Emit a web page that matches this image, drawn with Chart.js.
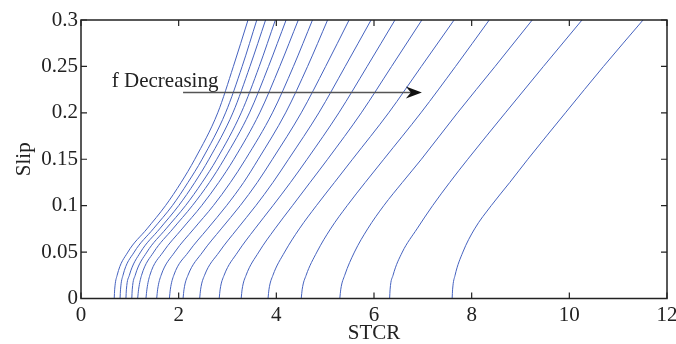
<!DOCTYPE html>
<html>
<head>
<meta charset="utf-8">
<title>Slip vs STCR</title>
<style>
  body { margin: 0; background: #fff; }
</style>
</head>
<body>
<canvas id="myChart" width="676" height="344"></canvas>
<script src="https://cdn.jsdelivr.net/npm/chart.js@4.4.1/dist/chart.umd.min.js"></script>
<script>
  // slip levels shared by every curve (y values)
  const slip = [0, 0.01, 0.025, 0.05, 0.075, 0.1, 0.125, 0.15, 0.2, 0.25, 0.3];

  // STCR (x) of each curve at those slip levels
  const stcr1  = [0.68, 0.69, 0.74, 0.96, 1.35, 1.73, 2.05, 2.33, 2.80, 3.12, 3.42];
  const stcr2  = [0.80, 0.81, 0.86, 1.09, 1.48, 1.87, 2.19, 2.48, 2.96, 3.30, 3.60];
  const stcr3  = [0.92, 0.93, 0.99, 1.22, 1.61, 2.00, 2.33, 2.62, 3.11, 3.46, 3.78];
  const stcr4  = [1.04, 1.05, 1.11, 1.35, 1.74, 2.14, 2.48, 2.78, 3.28, 3.65, 3.98];
  const stcr5  = [1.16, 1.18, 1.24, 1.49, 1.88, 2.28, 2.63, 2.93, 3.45, 3.84, 4.20];
  const stcr6  = [1.33, 1.35, 1.41, 1.68, 2.07, 2.47, 2.82, 3.13, 3.66, 4.07, 4.45];
  const stcr7  = [1.55, 1.57, 1.64, 1.92, 2.31, 2.71, 3.06, 3.37, 3.92, 4.35, 4.74];
  const stcr8  = [1.81, 1.83, 1.90, 2.20, 2.59, 2.98, 3.33, 3.63, 4.19, 4.64, 5.05];
  const stcr9  = [2.09, 2.11, 2.19, 2.49, 2.87, 3.26, 3.61, 3.92, 4.51, 5.01, 5.49];
  const stcr10 = [2.43, 2.45, 2.53, 2.83, 3.20, 3.58, 3.93, 4.25, 4.87, 5.41, 5.94];
  const stcr11 = [2.83, 2.85, 2.93, 3.21, 3.56, 3.93, 4.29, 4.63, 5.28, 5.86, 6.43];
  const stcr12 = [3.28, 3.30, 3.38, 3.64, 3.97, 4.33, 4.69, 5.05, 5.74, 6.36, 6.98];
  const stcr13 = [3.83, 3.85, 3.93, 4.17, 4.47, 4.82, 5.19, 5.56, 6.30, 6.97, 7.64];
  const stcr14 = [4.51, 4.53, 4.61, 4.83, 5.11, 5.45, 5.82, 6.20, 6.96, 7.67, 8.36];
  const stcr15 = [5.30, 5.32, 5.40, 5.60, 5.87, 6.20, 6.58, 6.97, 7.71, 8.48, 9.24];
  const stcr16 = [6.32, 6.33, 6.39, 6.58, 6.88, 7.20, 7.55, 7.92, 8.69, 9.47, 10.26];
  const stcr17 = [7.60, 7.61, 7.66, 7.82, 8.06, 8.40, 8.78, 9.15, 9.92, 10.70, 11.51];

  const curves = [stcr1, stcr2, stcr3, stcr4, stcr5, stcr6, stcr7, stcr8, stcr9,
                  stcr10, stcr11, stcr12, stcr13, stcr14, stcr15, stcr16, stcr17];

  const xTicks = [0, 2, 4, 6, 8, 10, 12];
  const yTicks = [0, 0.05, 0.1, 0.15, 0.2, 0.25, 0.3];
  const yTickLabels = ['0', '0.05', '0.1', '0.15', '0.2', '0.25', '0.3'];

  // arrow annotation, in data units
  const arrowLabel = 'f Decreasing';
  const arrowFrom = [2.09, 0.222];
  const arrowTo = [6.98, 0.222];
  const labelAt = [0.63, 0.2275];

  const FONT = '"Liberation Serif", "Times New Roman", serif';

  const datasets = curves.map(function(xs, i) {
    return {
      label: 'f' + (i + 1),
      data: xs.map(function(x, j) { return {x: x, y: slip[j]}; }),
      showLine: true,
      borderColor: '#4562bf',
      borderWidth: 1,
      pointRadius: 0,
      cubicInterpolationMode: 'monotone'
    };
  });

  // box frame with inward ticks + arrow annotation
  const framePlugin = {
    id: 'frame',
    afterDraw(chart) {
      const ctx = chart.ctx;
      const a = chart.chartArea;
      const xs = chart.scales.x, ys = chart.scales.y;
      const tl = 6;
      ctx.save();
      ctx.strokeStyle = '#222';
      ctx.lineWidth = 1.5;
      ctx.strokeRect(a.left, a.top, a.right - a.left, a.bottom - a.top);
      ctx.lineWidth = 1.2;
      ctx.beginPath();
      xTicks.forEach(function(v) {
        const px = xs.getPixelForValue(v);
        ctx.moveTo(px, a.bottom); ctx.lineTo(px, a.bottom - tl);
        ctx.moveTo(px, a.top); ctx.lineTo(px, a.top + tl);
      });
      yTicks.forEach(function(v) {
        const py = ys.getPixelForValue(v);
        ctx.moveTo(a.left, py); ctx.lineTo(a.left + tl, py);
        ctx.moveTo(a.right, py); ctx.lineTo(a.right - tl, py);
      });
      ctx.stroke();

      // arrow
      const x0 = xs.getPixelForValue(arrowFrom[0]), y0 = ys.getPixelForValue(arrowFrom[1]);
      const x1 = xs.getPixelForValue(arrowTo[0]), y1 = ys.getPixelForValue(arrowTo[1]);
      ctx.strokeStyle = '#555';
      ctx.lineWidth = 1.5;
      ctx.beginPath();
      ctx.moveTo(x0, y0); ctx.lineTo(x1 - 10, y1);
      ctx.stroke();
      ctx.fillStyle = '#111';
      ctx.beginPath();
      ctx.moveTo(x1, y1);
      ctx.lineTo(x1 - 16, y1 - 6);
      ctx.lineTo(x1 - 11, y1);
      ctx.lineTo(x1 - 16, y1 + 6);
      ctx.closePath();
      ctx.fill();

      ctx.fillStyle = '#222';
      ctx.font = '21px ' + FONT;
      ctx.textBaseline = 'alphabetic';
      ctx.textAlign = 'left';
      ctx.fillText(arrowLabel, xs.getPixelForValue(labelAt[0]), ys.getPixelForValue(labelAt[1]));
      ctx.restore();
    }
  };

  const config = {
    type: 'scatter',
    data: { datasets: datasets },
    options: {
      responsive: false,
      animation: false,
      layout: { padding: { top: 20, right: 9, left: 0, bottom: 0 } },
      plugins: { legend: { display: false }, tooltip: { enabled: false } },
      scales: {
        x: {
          type: 'linear',
          min: 0, max: 12,
          afterBuildTicks: function(s) { s.ticks = xTicks.map(function(v) { return {value: v}; }); },
          afterFit: function(s) { s.height = 45.5; s.paddingLeft = 0; s.paddingRight = 0; },
          grid: { display: false, drawTicks: false },
          border: { display: false },
          ticks: { color: '#222', padding: 4, font: { family: FONT, size: 21 }, maxRotation: 0, autoSkip: false },
          title: { display: true, text: 'STCR', color: '#222', padding: 0,
                   font: { family: FONT, size: 21, lineHeight: 1 } }
        },
        y: {
          type: 'linear',
          min: 0, max: 0.3,
          afterBuildTicks: function(s) { s.ticks = yTicks.map(function(v) { return {value: v}; }); },
          afterFit: function(s) { s.width = 81; s.paddingTop = 0; s.paddingBottom = 0; },
          grid: { display: false, drawTicks: false },
          border: { display: false },
          ticks: {
            color: '#222', padding: 3, font: { family: FONT, size: 21 }, autoSkip: false,
            callback: function(v) { const i = yTicks.indexOf(v); return i >= 0 ? yTickLabels[i] : ''; }
          },
          title: { display: true, text: 'Slip', color: '#222', padding: { top: 14, bottom: 0 },
                   font: { family: FONT, size: 21, lineHeight: 1 } }
        }
      }
    },
    plugins: [framePlugin]
  };

  const myChart = new Chart(document.getElementById('myChart'), config);
</script>
</body>
</html>
